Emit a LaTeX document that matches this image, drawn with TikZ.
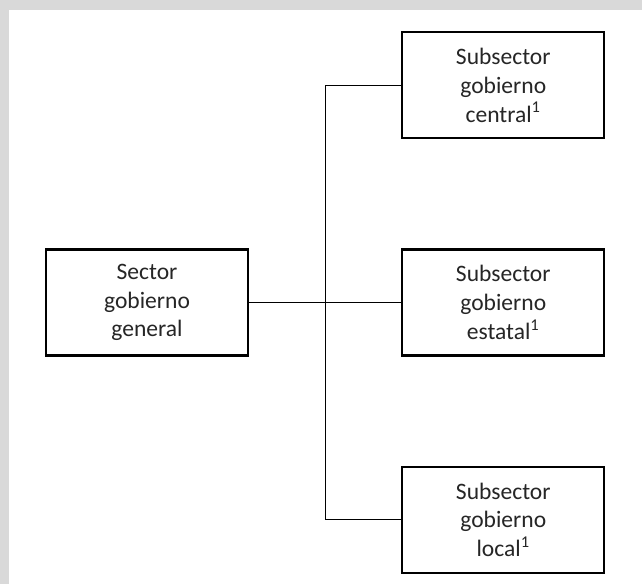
\documentclass[tikz,border=0pt]{standalone}
\usepackage{fontspec}
\setmainfont{Carlito}
\usetikzlibrary{positioning}
\definecolor{framegray}{HTML}{D9D9D9}
\tikzstyle{block} = [rectangle, minimum width=4.04cm, minimum height=2.12cm, text centered, align=center, draw=black, line width=1.3pt, text=black!85, font=\fontsize{13.4pt}{16.4pt}\selectfont]
\tikzstyle{link} = [line width=0.6pt]
\begin{document}
\begin{tikzpicture}[node distance=2.18cm]
            % frame
            \fill[framegray] (0,0) rectangle (12.84,-11.68);
            \fill[white] (0.18,-0.2) rectangle (12.84,-11.68);

            \node (general) [block] at (2.94,-6.05) {Sector\\gobierno\\general};
            \node (estatal) [block, right=3.04cm of general] {Subsector\\gobierno\\estatal\textsuperscript{1}};
            \node (central) [block, above=of estatal] {Subsector\\gobierno\\central\textsuperscript{1}};
            \node (local) [block, below=of estatal] {Subsector\\gobierno\\local\textsuperscript{1}};

            \path (general.east) -- (estatal.west) coordinate[midway] (split);
            \draw [link] (general) -- (estatal);
            \draw [link] (central.west) -| (split);
            \draw [link] (split) |- (local.west);
        \end{tikzpicture}
\end{document}
